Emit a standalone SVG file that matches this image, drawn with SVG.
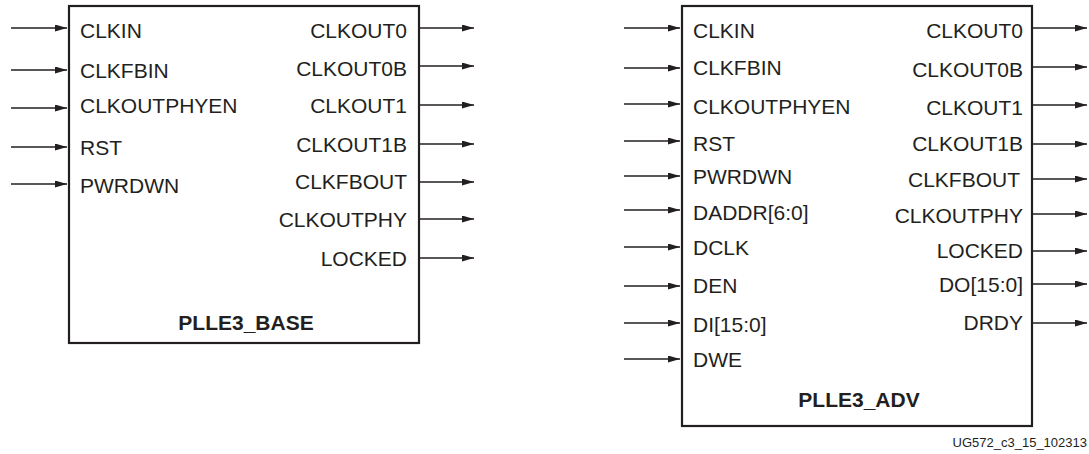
<svg xmlns="http://www.w3.org/2000/svg" width="1089" height="454" viewBox="0 0 1089 454">
<style>
.box{fill:#fff;stroke:#231f20;stroke-width:2.2}
.t{font-family:"Liberation Sans",Arial,sans-serif;font-size:21px;fill:#231f20}
.r{text-anchor:end}
.b{font-weight:bold;text-anchor:middle}
.w{stroke:#231f20;stroke-width:1.3;fill:none;marker-end:url(#ah)}
.note{font-family:"Liberation Sans",Arial,sans-serif;font-size:13px;fill:#231f20;text-anchor:end}
</style>
<defs>
<marker id="ah" viewBox="0 0 12 7" refX="12" refY="3.5" markerWidth="12" markerHeight="7" markerUnits="userSpaceOnUse" orient="auto">
<path d="M0,0 L12,3.5 L0,7 Z" fill="#231f20"/>
</marker>
</defs>
<rect width="1089" height="454" fill="#fff"/>
<g id="plle3_base">
<rect class="box" x="69" y="6" width="350" height="337"/>
<text class="t" x="80" y="38">CLKIN</text>
<text class="t" x="80" y="78">CLKFBIN</text>
<text class="t" x="80" y="113">CLKOUTPHYEN</text>
<text class="t" x="80" y="155">RST</text>
<text class="t" x="80" y="193">PWRDWN</text>
<text class="t r" x="407" y="38">CLKOUT0</text>
<text class="t r" x="407" y="76">CLKOUT0B</text>
<text class="t r" x="407" y="113">CLKOUT1</text>
<text class="t r" x="407" y="152">CLKOUT1B</text>
<text class="t r" x="407" y="189">CLKFBOUT</text>
<text class="t r" x="407" y="227">CLKOUTPHY</text>
<text class="t r" x="407" y="266">LOCKED</text>
<text class="t b" x="246" y="330">PLLE3_BASE</text>
</g>
<g id="plle3_adv">
<rect class="box" x="682" y="6" width="350" height="420"/>
<text class="t" x="693" y="38">CLKIN</text>
<text class="t" x="693" y="75">CLKFBIN</text>
<text class="t" x="693" y="114">CLKOUTPHYEN</text>
<text class="t" x="693" y="151">RST</text>
<text class="t" x="693" y="184">PWRDWN</text>
<text class="t" x="693" y="220">DADDR[6:0]</text>
<text class="t" x="693" y="255">DCLK</text>
<text class="t" x="693" y="293">DEN</text>
<text class="t" x="693" y="332">DI[15:0]</text>
<text class="t" x="693" y="367">DWE</text>
<text class="t r" x="1023" y="38">CLKOUT0</text>
<text class="t r" x="1023" y="77">CLKOUT0B</text>
<text class="t r" x="1023" y="115">CLKOUT1</text>
<text class="t r" x="1023" y="151">CLKOUT1B</text>
<text class="t r" x="1020" y="187">CLKFBOUT</text>
<text class="t r" x="1023" y="223">CLKOUTPHY</text>
<text class="t r" x="1023" y="258">LOCKED</text>
<text class="t r" x="1023" y="292">DO[15:0]</text>
<text class="t r" x="1023" y="330">DRDY</text>
<text class="t b" x="859" y="407">PLLE3_ADV</text>
</g>
<g id="connectors">
<line class="w" x1="11" y1="28" x2="67" y2="28"/>
<line class="w" x1="11" y1="70" x2="67" y2="70"/>
<line class="w" x1="11" y1="108" x2="67" y2="108"/>
<line class="w" x1="11" y1="147" x2="67" y2="147"/>
<line class="w" x1="11" y1="184" x2="67" y2="184"/>
<line class="w" x1="420" y1="28" x2="474" y2="28"/>
<line class="w" x1="420" y1="66" x2="474" y2="66"/>
<line class="w" x1="420" y1="105" x2="474" y2="105"/>
<line class="w" x1="420" y1="144" x2="474" y2="144"/>
<line class="w" x1="420" y1="182" x2="474" y2="182"/>
<line class="w" x1="420" y1="219" x2="474" y2="219"/>
<line class="w" x1="420" y1="258" x2="474" y2="258"/>
<line class="w" x1="624" y1="28" x2="680" y2="28"/>
<line class="w" x1="624" y1="68" x2="680" y2="68"/>
<line class="w" x1="624" y1="104" x2="680" y2="104"/>
<line class="w" x1="624" y1="141" x2="680" y2="141"/>
<line class="w" x1="624" y1="176" x2="680" y2="176"/>
<line class="w" x1="624" y1="210" x2="680" y2="210"/>
<line class="w" x1="624" y1="247" x2="680" y2="247"/>
<line class="w" x1="624" y1="286" x2="680" y2="286"/>
<line class="w" x1="624" y1="323" x2="680" y2="323"/>
<line class="w" x1="624" y1="359" x2="680" y2="359"/>
<line class="w" x1="1033" y1="28" x2="1087" y2="28"/>
<line class="w" x1="1033" y1="67" x2="1087" y2="67"/>
<line class="w" x1="1033" y1="105" x2="1087" y2="105"/>
<line class="w" x1="1033" y1="144" x2="1087" y2="144"/>
<line class="w" x1="1033" y1="179" x2="1087" y2="179"/>
<line class="w" x1="1033" y1="214" x2="1087" y2="214"/>
<line class="w" x1="1033" y1="251" x2="1087" y2="251"/>
<line class="w" x1="1033" y1="284" x2="1087" y2="284"/>
<line class="w" x1="1033" y1="323" x2="1087" y2="323"/>
</g>
<text class="note" x="1087" y="447">UG572_c3_15_102313</text>
</svg>
